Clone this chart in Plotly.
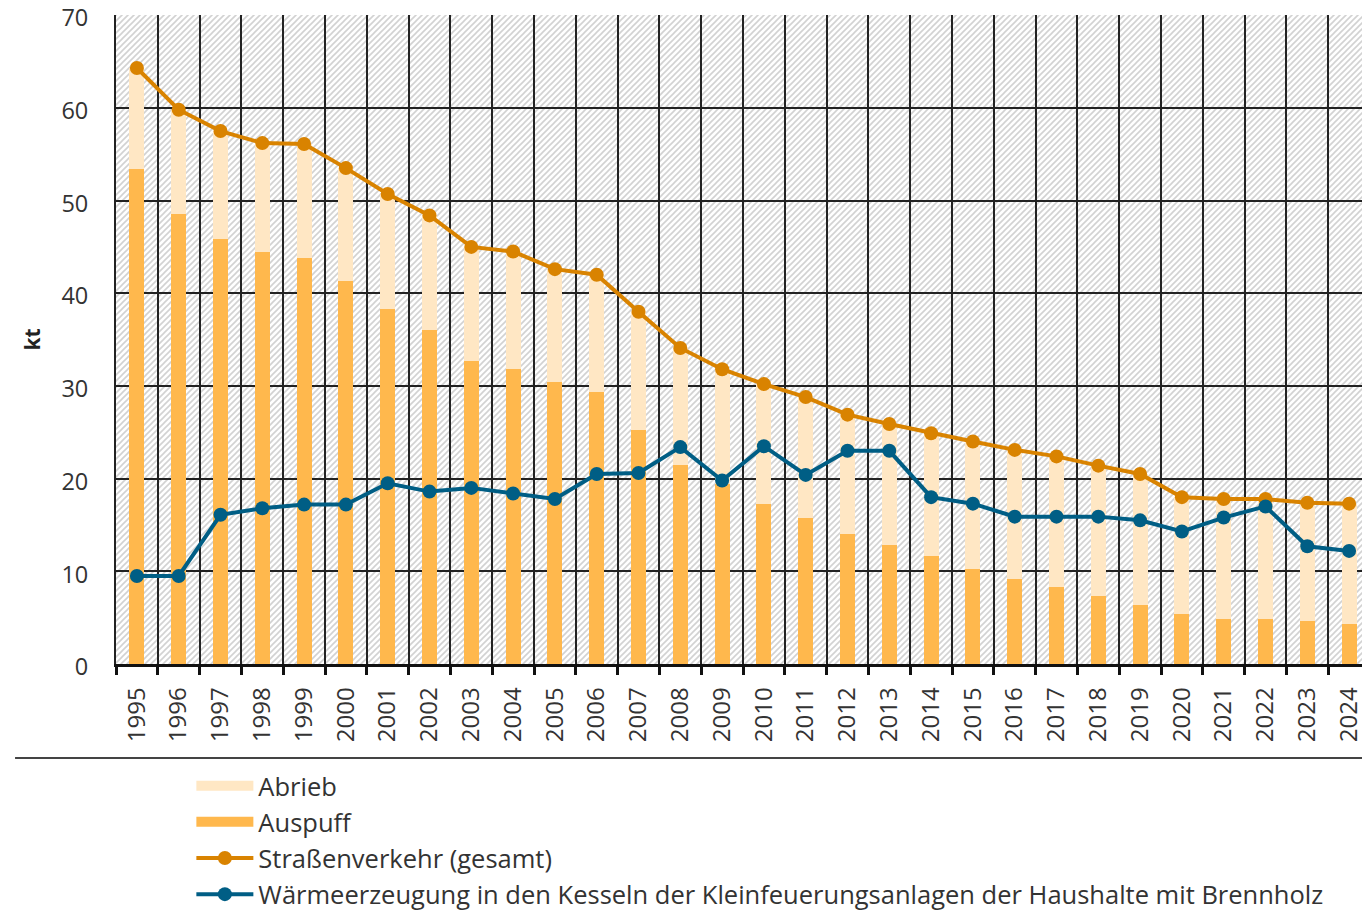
import base64
import plotly.graph_objects as go

# ---- data (kt) ----
years = [str(y) for y in range(1995, 2025)]
auspuff = [53.4, 48.6, 45.9, 44.5, 43.8, 41.3, 38.3, 36.0, 32.7, 31.8,
           30.4, 29.4, 25.2, 21.5, 19.4, 17.3, 15.7, 14.0, 12.8, 11.6,
           10.3, 9.2, 8.3, 7.3, 6.4, 5.4, 4.9, 4.9, 4.6, 4.3]
abrieb = [10.9, 11.2, 11.6, 11.7, 12.3, 12.2, 12.4, 12.4, 12.3, 12.7,
          12.2, 12.6, 12.8, 12.6, 12.4, 12.9, 13.1, 12.9, 13.1, 13.3,
          13.7, 13.9, 14.1, 14.1, 14.1, 12.6, 12.9, 12.9, 12.8, 13.0]
strassenverkehr = [64.3, 59.8, 57.5, 56.2, 56.1, 53.5, 50.7, 48.4, 45.0, 44.5,
                   42.6, 42.0, 38.0, 34.1, 31.8, 30.2, 28.8, 26.9, 25.9, 24.9,
                   24.0, 23.1, 22.4, 21.4, 20.5, 18.0, 17.8, 17.8, 17.4, 17.3]
waerme = [9.5, 9.5, 16.1, 16.8, 17.2, 17.2, 19.5, 18.6, 19.0, 18.4,
          17.8, 20.5, 20.6, 23.4, 19.8, 23.5, 20.4, 23.0, 23.0, 18.0,
          17.3, 15.9, 15.9, 15.9, 15.5, 14.3, 15.8, 17.0, 12.7, 12.2]
y_ticks = [0, 10, 20, 30, 40, 50, 60, 70]

FONT = "Open Sans"
TXT = "#333333"
C_AUSPUFF = "#FFB84D"
C_ABRIEB = "#FFE7C4"
C_STRASSE = "#D98300"
C_WAERME = "#005E85"

# hatched plot background (pattern image)
W, H = 1254, 649
svg = (
    f'<svg xmlns="http://www.w3.org/2000/svg" width="{W}" height="{H}" viewBox="0 0 {W} {H}" preserveAspectRatio="none">'
    '<defs><pattern id="p" patternUnits="userSpaceOnUse" width="6" height="6">'
    '<rect width="6" height="6" fill="#ffffff"/>'
    '<path d="M-1,1 l2,-2 M0,6 l6,-6 M5,7 l2,-2" stroke="#d2d2d2" stroke-width="1.6"/>'
    '</pattern></defs>'
    f'<rect width="{W}" height="{H}" fill="url(#p)"/></svg>'
)
src = "data:image/svg+xml;base64," + base64.b64encode(svg.encode()).decode()

fig = go.Figure()
fig.add_bar(x=years, y=auspuff, name="Auspuff", marker=dict(color=C_AUSPUFF, line=dict(width=0)),
            width=0.36, showlegend=False, legendgroup="auspuff")
fig.add_bar(x=years, y=abrieb, name="Abrieb", marker=dict(color=C_ABRIEB, line=dict(width=0)),
            width=0.36, showlegend=False, legendgroup="abrieb")
# legend swatches (wide rectangles) for the bar series
fig.add_scatter(x=[None], y=[None], name="Abrieb", mode="lines",
                line=dict(color=C_ABRIEB, width=16), legendgroup="abrieb", legendrank=1)
fig.add_scatter(x=[None], y=[None], name="Auspuff", mode="lines",
                line=dict(color=C_AUSPUFF, width=16), legendgroup="auspuff", legendrank=2)
fig.add_scatter(x=years, y=strassenverkehr, name="Straßenverkehr (gesamt)", mode="lines+markers",
                line=dict(color=C_STRASSE, width=4), marker=dict(size=14, color=C_STRASSE),
                legendrank=3)
fig.add_scatter(x=years, y=waerme,
                name="Wärmeerzeugung in den Kesseln der Kleinfeuerungsanlagen der Haushalte mit Brennholz",
                mode="lines+markers", line=dict(color=C_WAERME, width=4),
                marker=dict(size=14, color=C_WAERME), legendrank=4)

# page body has an 8px margin: figure is 1362x907 so it fills the 1370x915 window
fig.update_layout(
    width=1362, height=907,
    margin=dict(l=108, r=0, t=7, b=251, autoexpand=False),
    paper_bgcolor="white", plot_bgcolor="white",
    barmode="stack",
    font=dict(family=FONT, size=24, color=TXT),
    showlegend=True,
    legend=dict(x=0.0601, y=-0.152, xanchor="left", yanchor="top", traceorder="normal",
                bgcolor="rgba(0,0,0,0)", font=dict(size=25.5, color=TXT), itemwidth=57,
                tracegroupgap=0),
    images=[dict(source=src, xref="paper", yref="paper", x=0, y=1, sizex=1, sizey=1,
                 xanchor="left", yanchor="top", sizing="stretch", layer="below")],
    shapes=[dict(type="line", xref="paper", yref="paper", x0=-0.0805, x1=0.998,
                 y0=-0.1448, y1=-0.1448, line=dict(color="#444444", width=2))],
    xaxis=dict(type="category", range=[-0.5, 29.5], tickson="boundaries", showgrid=True,
               gridcolor="#222222", gridwidth=1.5, ticks="outside", ticklen=8, tickwidth=2.5,
               tickcolor="#111111", showline=True, linecolor="#111111", linewidth=2.5,
               tickangle=-90, tickfont=dict(size=24, color=TXT), ticklabelstandoff=11,
               automargin=False),
    yaxis=dict(range=[0, 70.02], tickvals=y_ticks, showgrid=True,
               gridcolor="#222222", gridwidth=1.5,
               showline=True, linecolor="#222222", linewidth=2, zeroline=False,
               ticks="", tickfont=dict(size=23.5, color=TXT), ticklabelstandoff=21,
               ticklabelshift=3, ticklabeloverflow="allow", automargin=False,
               title=dict(text="<b>kt</b>", font=dict(size=21, color="#222222"), standoff=15)),
)

fig.write_html("out.html")
